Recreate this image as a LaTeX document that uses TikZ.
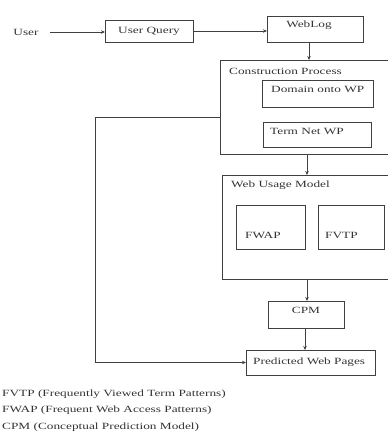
\documentclass[tikz,border=0pt]{standalone}
\usepackage{fontspec}
\setmainfont{Liberation Serif}[FakeStretch=1.4]
\usetikzlibrary{arrows.meta}
\begin{document}
\begin{tikzpicture}[x=1pt,y=-1pt,
  box/.style={draw=black!75,line width=0.7pt,inner sep=0pt,outer sep=0pt},
  txt/.style={inner sep=0pt,text=black!80,font=\fontsize{9.5}{11}\selectfont},
  arr/.style={draw=black!75,line width=0.7pt,-{Stealth[length=4pt,width=3.5pt]}},
  ln/.style={draw=black!75,line width=0.7pt}]
\useasboundingbox (0,0) rectangle (388,445);
\clip (0,0) rectangle (388,445);
% nodes
\node[txt] (user) at (26,32) {User};
\node[box,minimum width=88pt,minimum height=22pt] (uq) at (149,31) {};
\node[txt] (uqt) at (149,31) {User Query};
\node[box,minimum width=96pt,minimum height=26pt] (wl) at (315,29) {};
\node[txt] (wlt) at (309,25) {WebLog};
\node[box,minimum width=180pt,minimum height=94pt] (cp) at (310,107) {};
\node[txt,anchor=west] (cpt) at (229,71) {Construction Process};
\node[box,minimum width=111pt,minimum height=27pt] (dw) at (317.5,93.5) {};
\node[txt,anchor=west] (dwt) at (271,89) {Domain onto WP};
\node[box,minimum width=108pt,minimum height=25pt] (tn) at (317,134.5) {};
\node[txt,anchor=west] (tnt) at (270,131) {Term Net WP};
\node[box,minimum width=178pt,minimum height=104pt] (wum) at (311,227) {};
\node[txt,anchor=west] (wumt) at (231,185) {Web Usage Model};
\node[box,minimum width=69pt,minimum height=44pt] (fwap) at (270.5,227) {};
\node[txt,anchor=west] (fwapt) at (245,235) {FWAP};
\node[box,minimum width=66pt,minimum height=44pt] (fvtp) at (351,227) {};
\node[txt,anchor=west] (fvtpt) at (325,235) {FVTP};
\node[box,minimum width=76pt,minimum height=27pt] (cpm) at (306,314.5) {};
\node[txt] (cpmt) at (306,310) {CPM};
\node[box,minimum width=129pt,minimum height=25pt] (pwp) at (310.5,362.5) {};
\node[txt,anchor=west] (pwpt) at (253,362) {Predicted Web Pages};
\node[txt,anchor=west] (lg1) at (2,394) {FVTP (Frequently Viewed Term Patterns)};
\node[txt,anchor=west] (lg2) at (2,410.5) {FWAP (Frequent Web Access Patterns)};
\node[txt,anchor=west] (lg3) at (2,427) {CPM (Conceptual Prediction Model)};
% connectors
\coordinate (us) at (50,32);
\draw[arr] (us) -- (us -| uq.west);
\draw[arr] (uq.east) -- (uq.east -| wl.west);
\coordinate (a1) at (309,0);
\draw[arr] (a1 |- wl.south) -- (a1 |- cp.north);
\coordinate (a2) at (307,0);
\draw[arr] (a2 |- cp.south) -- (a2 |- wum.north);
\draw[arr] (a2 |- wum.south) -- (a2 |- cpm.north);
\coordinate (a3) at (305,0);
\draw[arr] (a3 |- cpm.south) -- (a3 |- pwp.north);
\coordinate (fb1) at (95,117);
\coordinate (fb2) at (95,362.5);
\draw[ln] (fb1 -| cp.west) -- (fb1) -- (fb2);
\draw[arr] (fb2) -- (pwp.west);
\end{tikzpicture}
\end{document}
